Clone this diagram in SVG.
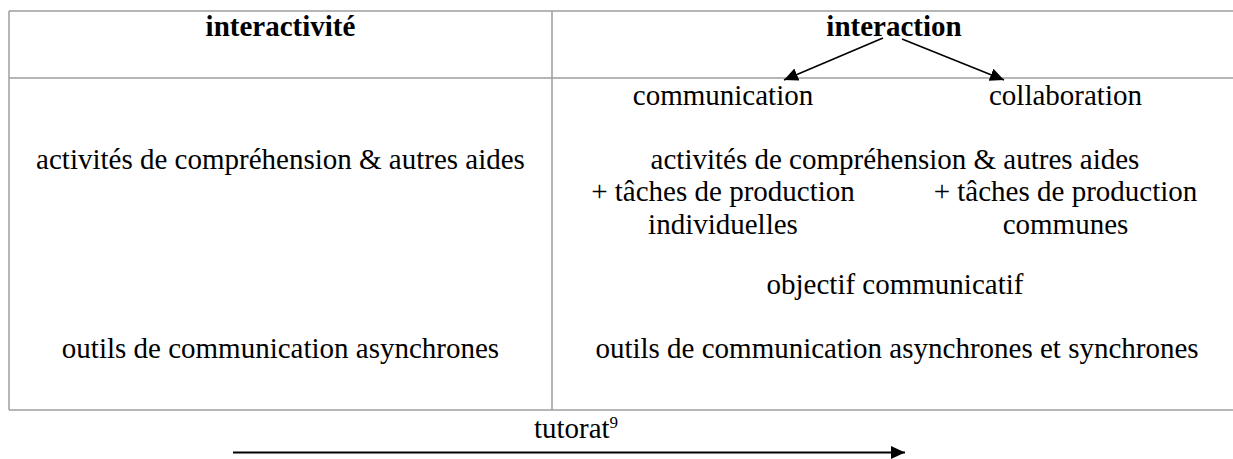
<svg xmlns="http://www.w3.org/2000/svg" width="1233" height="459" viewBox="0 0 1233 459">
  <style>
    .grid { stroke: #9e9e9e; stroke-width: 1.5; fill: none; }
    .t { font-family: "Liberation Serif", "DejaVu Serif", serif; font-size: 29px; fill: #000; text-anchor: middle; }
    .b { font-weight: bold; }
    .arr { stroke: #000; fill: none; }
  </style>
  <defs>
    <marker id="ah" markerUnits="userSpaceOnUse" markerWidth="16" markerHeight="14" refX="14" refY="6.5" orient="auto">
      <path d="M0,0 L14,6.5 L0,13 z" fill="#000"/>
    </marker>
  </defs>
  <rect width="1233" height="459" fill="#fff"/>

  <g id="table">
    <line class="grid" x1="9" y1="11" x2="1233" y2="11"/>
    <line class="grid" x1="9" y1="78" x2="1233" y2="78"/>
    <line class="grid" x1="9" y1="410" x2="1233" y2="410"/>
    <line class="grid" x1="9" y1="11" x2="9" y2="410"/>
    <line class="grid" x1="552" y1="11" x2="552" y2="410"/>
  </g>

  <g id="node-interactivite">
    <text class="t b" x="280.5" y="36">interactivité</text>
  </g>
  <g id="node-interaction">
    <text class="t b" x="894" y="36">interaction</text>
  </g>
  <g id="node-communication">
    <text class="t" x="723" y="105">communication</text>
  </g>
  <g id="node-collaboration">
    <text class="t" x="1065.5" y="105">collaboration</text>
  </g>

  <g id="node-left-activites">
    <text class="t" x="280.5" y="169">activités de compréhension &amp; autres aides</text>
  </g>
  <g id="node-right-activites">
    <text class="t" x="895" y="169">activités de compréhension &amp; autres aides</text>
  </g>
  <g id="node-taches-individuelles">
    <text class="t" x="723" y="201">+ tâches de production</text>
    <text class="t" x="723" y="234">individuelles</text>
  </g>
  <g id="node-taches-communes">
    <text class="t" x="1065.5" y="201">+ tâches de production</text>
    <text class="t" x="1065.5" y="234">communes</text>
  </g>
  <g id="node-objectif">
    <text class="t" x="895" y="294">objectif communicatif</text>
  </g>
  <g id="node-left-outils">
    <text class="t" x="280.5" y="358">outils de communication asynchrones</text>
  </g>
  <g id="node-right-outils">
    <text class="t" x="897" y="358">outils de communication asynchrones et synchrones</text>
  </g>
  <g id="node-tutorat">
    <text class="t" x="576" y="438">tutorat<tspan font-size="17" dy="-10">9</tspan></text>
  </g>

  <g id="connectors">
    <line class="arr" stroke-width="1.6" x1="883" y1="38" x2="784" y2="80" marker-end="url(#ah)"/>
    <line class="arr" stroke-width="1.6" x1="902" y1="39" x2="1004" y2="80" marker-end="url(#ah)"/>
    <line class="arr" stroke-width="2.2" x1="233" y1="452.5" x2="905" y2="452.5" marker-end="url(#ah)"/>
  </g>
</svg>
